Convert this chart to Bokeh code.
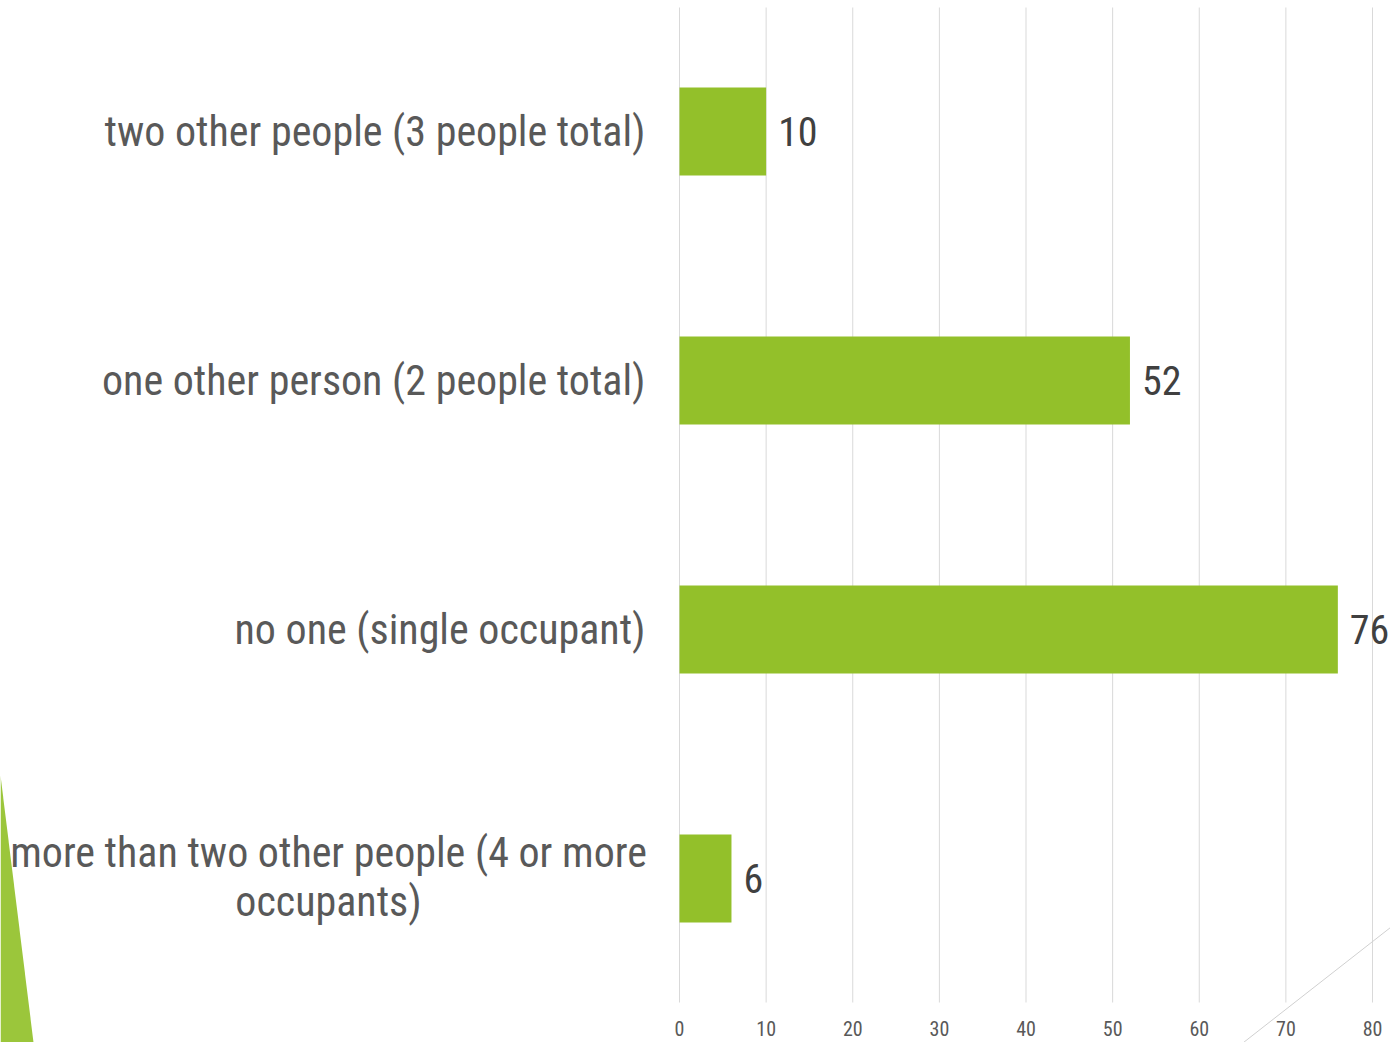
from bokeh.plotting import figure
from bokeh.models import Range1d, ColumnDataSource
from bokeh.core.properties import value
from bokeh.embed import file_html
from bokeh.resources import INLINE

categories = [
    "two other people (3 people total)",
    "one other person (2 people total)",
    "no one (single occupant)",
    "more than two other people (4 or more occupants)",
]
counts = [10, 52, 76, 6]
x_ticks = [0, 10, 20, 30, 40, 50, 60, 70, 80]
tick_labels = ["0", "10", "20", "30", "40", "50", "60", "70", "80"]
# display text (the last category wraps onto two lines)
display_labels = [
    "two other people (3 people total)",
    "one other person (2 people total)",
    "no one (single occupant)",
    "more than two other people (4 or more\noccupants)",
]

FONT = "Roboto Condensed"
GREEN = "#93C02A"
W, H = 1390, 1042

# layout: pixel geometry of the frame (canvas px)
X0_PX, PX_PER_UNIT = 679, 693 / 80          # x=0 at px 679, 80 units = 693 px
Y0_PX, PX_PER_CAT = 878, 249                # bottom category centre, category spacing

def xd(px):
    return (px - X0_PX) / PX_PER_UNIT

def yd(py):
    return (Y0_PX - py) / PX_PER_CAT

n = len(categories)
ypos = [n - 1 - i for i in range(n)]

p = figure(width=W, height=H,
           x_range=Range1d(xd(0), xd(W)), y_range=Range1d(yd(H), yd(0)),
           output_backend="svg", toolbar_location=None,
           min_border_left=0, min_border_right=0, min_border_top=0, min_border_bottom=0)
p.xaxis.visible = False
p.yaxis.visible = False
p.grid.visible = False
p.outline_line_color = None

grid_bottom = yd(1002)
grid_top = yd(7)

# vertical gridlines at the ticks
p.segment(x0=x_ticks, x1=x_ticks, y0=[grid_bottom] * len(x_ticks), y1=[grid_top] * len(x_ticks),
          line_color="#D9D9D9", line_width=1)

# tick labels
p.text(x=x_ticks, y=[grid_bottom] * len(x_ticks), text=tick_labels, y_offset=26,
       text_align="center", text_baseline="middle",
       text_font=value(FONT), text_font_size="20px", text_color="#595959")

# bars
src = ColumnDataSource(dict(y=ypos, val=counts, lab=[str(v) for v in counts]))
p.hbar(y="y", left=0, right="val", height=0.353, source=src,
       fill_color=GREEN, line_color=None)
p.text(x="val", y="y", text="lab", source=src, x_offset=12,
       text_align="left", text_baseline="middle",
       text_font=value(FONT), text_font_size="40px", text_color="#404040")

# category labels
single = [i for i, t in enumerate(display_labels) if "\n" not in t]
wrapped = [i for i, t in enumerate(display_labels) if "\n" in t]
p.text(x=[0] * len(single), y=[ypos[i] for i in single], text=[display_labels[i] for i in single],
       x_offset=-34, text_align="right", text_baseline="middle",
       text_font=value(FONT), text_font_size="42px", text_color="#595959")
p.text(x=[0] * len(wrapped), y=[ypos[i] for i in wrapped], text=[display_labels[i] for i in wrapped],
       x_offset=-351, y_offset=-2, text_align="center", text_baseline="middle", text_line_height=1.0,
       text_font=value(FONT), text_font_size="42px", text_color="#595959")

# slide decorations
p.patch(x=[xd(0), xd(33), xd(0)], y=[yd(775), yd(H), yd(H)],
        fill_color="#9BC63B", line_color=None)
p.line(x=[xd(1243), xd(W)], y=[yd(H), yd(927)], line_color="#D0D0D0", line_width=1)

open("out.html", "w").write(file_html(p, INLINE))
